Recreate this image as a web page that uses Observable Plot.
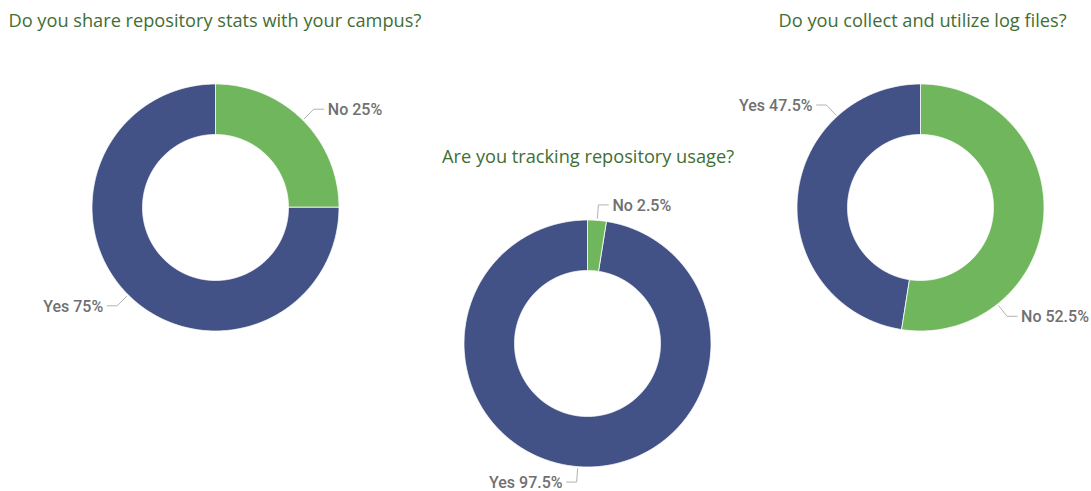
<!DOCTYPE html>
<html>
<head>
<meta charset="utf-8">
<script src="https://cdn.jsdelivr.net/npm/d3@7"></script>
<script src="https://cdn.jsdelivr.net/npm/@observablehq/plot@0.6"></script>
<style>
  html, body { margin: 0; padding: 0; background: #fff; }
  #chart svg { display: block; }
</style>
</head>
<body>
<div id="chart"></div>
<script>
// ---- data ----
const titles = [
  "Do you share repository stats with your campus?",
  "Are you tracking repository usage?",
  "Do you collect and utilize log files?"
];
const categories = ["No", "Yes"];
const noValues = [25, 2.5, 52.5];
const yesValues = [75, 97.5, 47.5];
const labelTexts = [["No 25%", "Yes 75%"], ["No 2.5%", "Yes 97.5%"], ["No 52.5%", "Yes 47.5%"]];
const colors = ["#70b65c", "#435286"];

// ---- layout ----
const W = 1091, H = 491;
const centers = [[215, 207], [587, 343], [920, 207]];
const rOuter = 123.5, rInner = 73;
// leader anchor angles (degrees clockwise from 12 o'clock), as placed in the reference
const labelAngles = [[null, null], [null, null], [141.5, 317.5]];
const titlePos = [
  {x: 8, y: 20, anchor: "start"},
  {x: 587.5, y: 156, anchor: "middle"},
  {x: 1066, y: 20, anchor: "end"}
];

const pt = (c, r, a) => [c[0] + r * Math.sin(a), c[1] - r * Math.cos(a)];

const slicePts = [];
const leaderPts = [];
const labels = [];
const pie = d3.pie().sort(null).value(d => d.value);

titles.forEach((t, i) => {
  const rows = categories.map((cat, k) => ({cat, value: k === 0 ? noValues[i] : yesValues[i]}));
  const arcs = pie(rows);
  arcs.forEach((a, k) => {
    const id = i + "-" + k;
    const n = Math.max(2, Math.ceil((a.endAngle - a.startAngle) / (Math.PI / 360)));
    for (let j = 0; j <= n; j++) {
      const ang = a.startAngle + (a.endAngle - a.startAngle) * j / n;
      const [x, y] = pt(centers[i], rOuter, ang);
      slicePts.push({id, cat: a.data.cat, x, y});
    }
    for (let j = n; j >= 0; j--) {
      const ang = a.startAngle + (a.endAngle - a.startAngle) * j / n;
      const [x, y] = pt(centers[i], rInner, ang);
      slicePts.push({id, cat: a.data.cat, x, y});
    }
    // leader line
    const la = labelAngles[i][k] != null ? labelAngles[i][k] * Math.PI / 180 : (a.startAngle + a.endAngle) / 2;
    const p0 = pt(centers[i], rOuter + 2, la);
    const p1 = pt(centers[i], rOuter + 15.5, la);
    const dir = Math.sin(la) >= 0 ? 1 : -1;
    const p2 = [p1[0] + dir * 10, p1[1]];
    [p0, p1, p2].forEach(p => leaderPts.push({id, x: p[0], y: p[1]}));
    labels.push({x: p2[0] + dir * 4, y: p2[1], text: labelTexts[i][k], anchor: dir > 0 ? "start" : "end"});
  });
});

const labelStyle = {x: "x", y: "y", text: "text", fill: "#707070", fontSize: 16, fontWeight: 500, fontFamily: "Roboto, sans-serif", dy: 1};

const plot = Plot.plot({
  width: W,
  height: H,
  margin: 0,
  x: {domain: [0, W], range: [0, W], axis: null},
  y: {domain: [0, H], range: [0, H], axis: null},
  color: {domain: categories, range: colors},
  marks: [
    Plot.line(slicePts, {x: "x", y: "y", z: "id", fill: "cat", stroke: "white", strokeWidth: 0.8, curve: "linear-closed"}),
    Plot.line(leaderPts, {x: "x", y: "y", z: "id", stroke: "#b3b3b3", strokeWidth: 1}),
    Plot.text(labels.filter(d => d.anchor === "start"), {...labelStyle, textAnchor: "start"}),
    Plot.text(labels.filter(d => d.anchor === "end"), {...labelStyle, textAnchor: "end"}),
    ...titlePos.map((p, i) => Plot.text([titles[i]], {x: () => p.x, y: () => p.y, text: d => d, textAnchor: p.anchor, fill: "#3f6e34", fontSize: 18.2, fontFamily: "'Open Sans', sans-serif", dy: 0.5}))
  ]
});
document.getElementById("chart").appendChild(plot);
</script>
</body>
</html>
